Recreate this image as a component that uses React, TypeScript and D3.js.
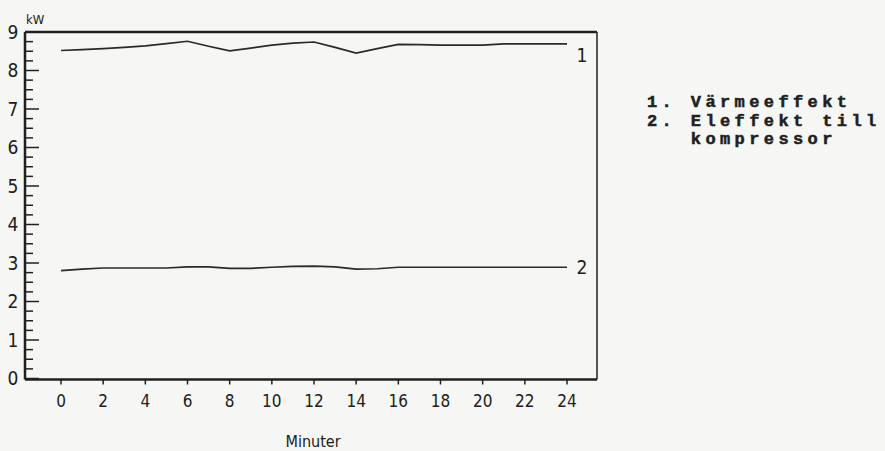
import React from "react";
import * as d3 from "d3";

// Minutes sampled once per minute
const minutes = d3.range(0, 25);
// Series 1: Värmeeffekt (kW)
const heatOutput = [
  8.52, 8.54, 8.57, 8.6, 8.64, 8.7, 8.76, 8.63, 8.51, 8.58, 8.66, 8.71, 8.74,
  8.6, 8.45, 8.57, 8.68, 8.67, 8.66, 8.66, 8.66, 8.69, 8.69, 8.69, 8.69,
];
// Series 2: Eleffekt till kompressor (kW)
const compressorPower = [
  2.8, 2.84, 2.87, 2.87, 2.87, 2.87, 2.9, 2.9, 2.86, 2.86, 2.89, 2.91, 2.92,
  2.9, 2.84, 2.85, 2.89, 2.89, 2.89, 2.89, 2.89, 2.89, 2.89, 2.89, 2.89,
];
const xTicks = [0, 2, 4, 6, 8, 10, 12, 14, 16, 18, 20, 22, 24];
const yTicks = [0, 1, 2, 3, 4, 5, 6, 7, 8, 9];
const yMinorTicks = d3.range(0, 9.01, 0.25);
const legendLines = ["1. Värmeeffekt", "2. Eleffekt till", "   kompressor"];

const W = 885;
const H = 451;
const frame = { left: 25, right: 597, top: 32, bottom: 379.5 };

export default function App() {
  const x = d3.scaleLinear().domain([0, 24]).range([61, 567]);
  const y = d3.scaleLinear().domain([0, 9]).range([378.5, 32]);
  const line = d3
    .line<number>()
    .x((_, i) => x(minutes[i]))
    .y((d) => y(d));
  const ink = "#202020";
  const axisFont = "'DejaVu Sans Condensed', 'Liberation Sans Narrow', 'DejaVu Sans', sans-serif";

  return (
    <svg
      width={W}
      height={H}
      style={{ position: "absolute", left: 0, top: 0, background: "#f6f6f4" }}
    >
      <rect x={0} y={0} width={W} height={H} fill="#f6f6f4" />
      {/* frame */}
      <line x1={frame.left} x2={frame.right} y1={frame.top} y2={frame.top} stroke={ink} strokeWidth={2.5} />
      <line x1={frame.left} x2={frame.right} y1={frame.bottom} y2={frame.bottom} stroke={ink} strokeWidth={2.5} />
      <line x1={frame.left} x2={frame.left} y1={frame.top} y2={frame.bottom} stroke={ink} strokeWidth={2.5} />
      <line x1={frame.right} x2={frame.right} y1={frame.top} y2={frame.bottom} stroke={ink} strokeWidth={1.5} />

      {/* y ticks */}
      {yMinorTicks.map((v) => {
        const major = Math.abs(v - Math.round(v)) < 1e-6;
        return (
          <line
            key={v}
            x1={frame.left}
            x2={frame.left + (major ? 14 : 8)}
            y1={y(v)}
            y2={y(v)}
            stroke={ink}
            strokeWidth={1.5}
          />
        );
      })}
      {yTicks.map((v) => (
        <text
          key={v}
          x={13}
          y={y(v)}
          dy="0.36em"
          textAnchor="middle"
          fontFamily={axisFont}
          fontSize={19}
          fill={ink}
        >
          {v}
        </text>
      ))}
      <text x={26} y={24} fontFamily={axisFont} fontSize={13} fill={ink}>
        kW
      </text>

      {/* x ticks */}
      {xTicks.map((v) => (
        <g key={v}>
          <line x1={x(v)} x2={x(v)} y1={frame.bottom} y2={frame.bottom + 5} stroke={ink} strokeWidth={1.5} />
          <text
            x={x(v)}
            y={407}
            textAnchor="middle"
            fontFamily={axisFont}
            fontSize={17}
            fill={ink}
          >
            {v}
          </text>
        </g>
      ))}
      <text x={313} y={447} textAnchor="middle" fontFamily={axisFont} fontSize={16} fill={ink}>
        Minuter
      </text>

      {/* series */}
      <path d={line(heatOutput) ?? ""} fill="none" stroke="#2a2a2a" strokeWidth={1.7} />
      <path d={line(compressorPower) ?? ""} fill="none" stroke="#2a2a2a" strokeWidth={1.7} />
      <text x={582} y={y(heatOutput[24]) + 18} textAnchor="middle" fontFamily={axisFont} fontSize={19} fill={ink}>
        1
      </text>
      <text x={582} y={y(compressorPower[24]) + 7} textAnchor="middle" fontFamily={axisFont} fontSize={19} fill={ink}>
        2
      </text>

      {/* legend */}
      {legendLines.map((t, i) => (
        <text
          key={i}
          x={647}
          y={107 + i * 18.5}
          fontFamily="'Liberation Mono', 'DejaVu Sans Mono', monospace"
          fontWeight="bold"
          fontSize={17}
          letterSpacing={4.4}
          fill={ink}
          stroke={ink}
          strokeWidth={0.5}
          xmlSpace="preserve"
          style={{ whiteSpace: "pre" }}
        >
          {t}
        </text>
      ))}
    </svg>
  );
}
